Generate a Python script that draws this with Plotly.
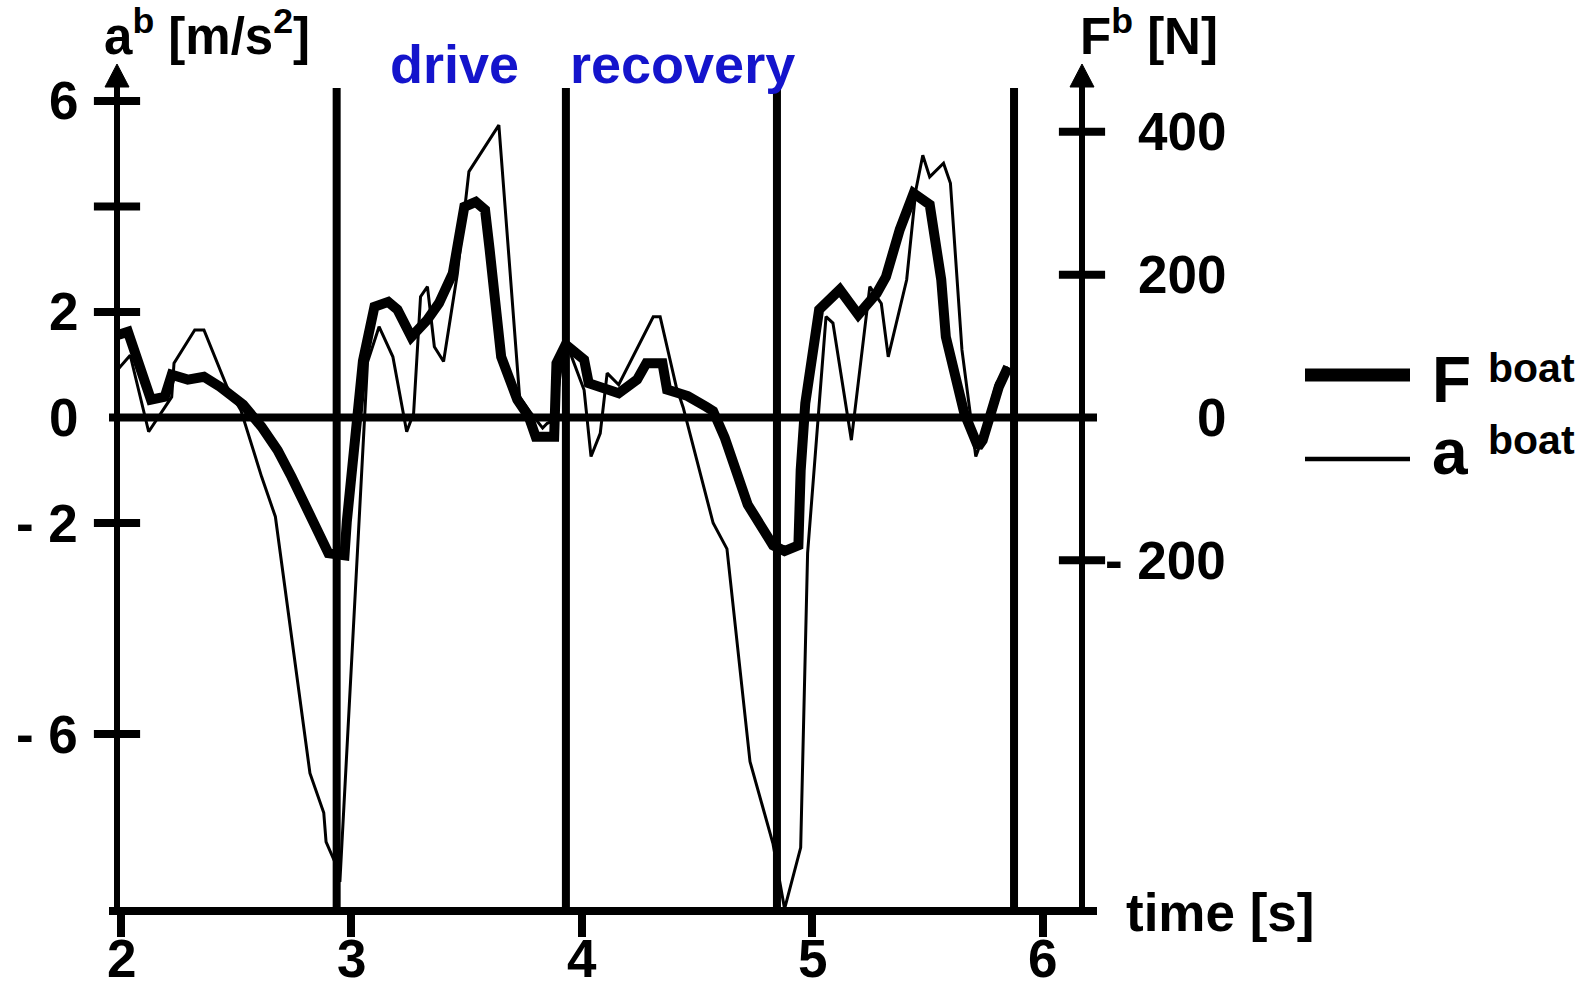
import plotly.graph_objects as go

# ---------------- data ----------------
t_force = [1.99, 2.03, 2.13, 2.19, 2.22, 2.29, 2.36, 2.43, 2.53, 2.61, 2.68, 2.74, 2.90, 2.97, 2.98,
           3.05, 3.10, 3.16, 3.20, 3.26, 3.33, 3.38, 3.44, 3.49, 3.54, 3.58, 3.60, 3.65, 3.72, 3.77,
           3.80, 3.88, 3.89, 3.93, 4.01, 4.03, 4.16, 4.24, 4.28, 4.35, 4.37, 4.46, 4.54, 4.57, 4.62,
           4.72, 4.83, 4.88, 4.94, 4.95, 4.97, 5.03, 5.12, 5.20, 5.28, 5.32, 5.38, 5.44, 5.51, 5.56,
           5.58, 5.66, 5.72, 5.74, 5.81, 5.85]
force_N = [116, 120, 25, 29, 60, 53, 57, 43, 18, -13, -46, -83, -190, -193, -146,
           79, 155, 162, 151, 113, 137, 160, 202, 295, 302, 291, 235, 85, 25, 1,
           -27, -27, 76, 102, 81, 48, 34, 53, 76, 76, 39, 30, 15, 9, -28,
           -122, -179, -187, -179, -74, 20, 151, 179, 144, 174, 197, 263, 314, 298, 193,
           113, 6, -41, -32, 43, 71]

t_acc = [1.99, 2.04, 2.12, 2.22, 2.23, 2.32, 2.36, 2.46, 2.52, 2.61, 2.67, 2.82, 2.88, 2.89, 2.93,
         2.95, 3.07, 3.12, 3.18, 3.24, 3.27, 3.30, 3.33, 3.36, 3.40, 3.46, 3.51, 3.64, 3.73, 3.78,
         3.83, 3.85, 3.88, 3.92, 3.95, 4.01, 4.04, 4.08, 4.11, 4.16, 4.31, 4.34, 4.41, 4.44, 4.57,
         4.63, 4.73, 4.83, 4.88, 4.95, 4.98, 5.06, 5.09, 5.17, 5.25, 5.30, 5.33, 5.41, 5.45, 5.48,
         5.51, 5.57, 5.60, 5.65, 5.71, 5.72, 5.80, 5.85]
acc_ms2 = [0.93, 1.18, -0.27, 0.39, 1.03, 1.66, 1.66, 0.58, 0.14, -1.12, -1.88, -6.74, -7.49, -8.04, -8.44,
           -8.80, 1.05, 1.72, 1.15, -0.27, 0.08, 2.29, 2.48, 1.34, 1.06, 2.73, 4.66, 5.54, 0.39, 0.08,
           -0.20, -0.11, -0.05, 1.28, 1.22, 0.52, -0.74, -0.30, 0.84, 0.62, 1.91, 1.91, 0.58, 0.19, -2.00,
           -2.49, -6.52, -8.08, -9.31, -8.15, -2.57, 1.91, 1.79, -0.43, 2.48, 2.16, 1.15, 2.61, 4.31, 4.97,
           4.56, 4.82, 4.44, 1.28, -0.74, -0.62, 0.65, 0.96]

phase_lines_s = [2.936, 3.931, 4.847, 5.876]
phase_names = ["drive", "recovery"]

x_ticks = [2, 3, 4, 5, 6]
x_tick_text = ["2", "3", "4", "5", "6"]
a_tick_marks = [6, 4, 2, -2, -6]
a_tick_vals = [6, 2, 0, -2, -6]
a_tick_text = ["6", "2", "0", "- 2", "- 6"]
F_tick_marks = [400, 200, -200]
F_tick_vals = [400, 200, 0, -200]
F_tick_text = ["400", "200", "0", "- 200"]

# ---------------- layout geometry ----------------
W, H = 1582, 990
L, R, T, B = 117, 500, 88, 79
PW, PH = W - L - R, H - T - B
x_range = [1.9826, 6.171]
a_range = [-9.352, 6.244]
N_PER_MS2 = 73.9
F_range = [a_range[0] * N_PER_MS2, a_range[1] * N_PER_MS2]

def fx(p):  # pixel -> paper x
    return (p - L) / PW

def fy(p):  # pixel -> paper y
    return (H - B - p) / PH

FONT = "Liberation Sans, Arial, sans-serif"
BLUE = "#1414CC"
FS = 53

fig = go.Figure()

fig.add_trace(go.Scatter(x=t_acc, y=acc_ms2, mode="lines", yaxis="y",
                         line=dict(color="black", width=3), showlegend=False, hoverinfo="skip"))
fig.add_trace(go.Scatter(x=t_force, y=force_N, mode="lines", yaxis="y2",
                         line=dict(color="black", width=10), showlegend=False, hoverinfo="skip"))

# tick marks crossing the vertical axes
fig.add_trace(go.Scatter(x=[x_range[0]] * len(a_tick_marks), y=a_tick_marks, mode="markers", yaxis="y",
                         marker=dict(symbol="line-ew", size=33, line=dict(width=8, color="black")),
                         cliponaxis=False, showlegend=False, hoverinfo="skip"))
fig.add_trace(go.Scatter(x=[x_range[1]] * len(F_tick_marks), y=F_tick_marks, mode="markers", yaxis="y2",
                         marker=dict(symbol="line-ew", size=33, line=dict(width=8, color="black")),
                         cliponaxis=False, showlegend=False, hoverinfo="skip"))

shapes = []
# phase boundary lines
for tl in phase_lines_s:
    shapes.append(dict(type="line", xref="x", yref="paper", x0=tl, x1=tl, y0=0, y1=1,
                       line=dict(color="black", width=8)))
# zero line
shapes.append(dict(type="line", xref="paper", yref="y", x0=fx(109), x1=fx(1097), y0=0, y1=0,
                   line=dict(color="black", width=8)))
# bottom axis
shapes.append(dict(type="line", xref="paper", yref="paper", x0=fx(109), x1=fx(1097), y0=0, y1=0,
                   line=dict(color="black", width=8)))
# vertical axes with arrows
for xa in (0, 1):
    shapes.append(dict(type="line", xref="paper", yref="paper", x0=xa, x1=xa, y0=0, y1=fy(80),
                       line=dict(color="black", width=6)))
    xl, xr_ = xa - 12 / PW, xa + 12 / PW
    shapes.append(dict(type="path", xref="paper", yref="paper",
                       path=f"M {xl} {fy(87)} L {xr_} {fy(87)} L {xa} {fy(64)} Z",
                       fillcolor="black", line=dict(color="black", width=1)))
# legend lines
shapes.append(dict(type="line", xref="paper", yref="paper", x0=fx(1305), x1=fx(1410), y0=fy(375), y1=fy(375),
                   line=dict(color="black", width=13)))
shapes.append(dict(type="line", xref="paper", yref="paper", x0=fx(1305), x1=fx(1410), y0=fy(459), y1=fy(459),
                   line=dict(color="black", width=4.5)))

ann = []
big = dict(family=FONT, size=FS, color="black", weight="bold")
for v, s in zip(x_ticks, x_tick_text):
    ann.append(dict(x=v, y=fy(989), xref="x", yref="paper", text=s, showarrow=False, borderpad=0,
                    xanchor="center", yanchor="bottom", font=big))
for v, s in zip(a_tick_vals, a_tick_text):
    ann.append(dict(x=fx(80), y=v, xref="paper", yref="y", text=s, showarrow=False,
                    xanchor="right", yanchor="middle", font=big))
for v, s in zip(F_tick_vals, F_tick_text):
    ann.append(dict(x=fx(1228), y=v, xref="paper", yref="y2", text=s, showarrow=False,
                    xanchor="right", yanchor="middle", font=big))
title_font = dict(family=FONT, size=51, color="black", weight="bold")
ann.append(dict(x=fx(102), y=fy(33), xref="paper", yref="paper", text="a<sup>b</sup> [m/s<sup>2</sup>]",
                showarrow=False, xanchor="left", yanchor="middle", font=title_font))
ann.append(dict(x=fx(1078), y=fy(33), xref="paper", yref="paper", text="F<sup>b</sup> [N]",
                showarrow=False, xanchor="left", yanchor="middle", font=title_font))
blue_font = dict(family=FONT, size=54, color=BLUE, weight="bold")
ann.append(dict(x=fx(388), y=fy(64), xref="paper", yref="paper",
                text=phase_names[0], showarrow=False, xanchor="left", yanchor="middle", font=blue_font))
ann.append(dict(x=fx(568), y=fy(64), xref="paper", yref="paper",
                text=phase_names[1], showarrow=False, xanchor="left", yanchor="middle", font=blue_font))
ann.append(dict(x=fx(1124), y=fy(912), xref="paper", yref="paper", text="time [s]",
                showarrow=False, xanchor="left", yanchor="middle", font=big))
# legend text
ann.append(dict(x=fx(1430), y=fy(380), xref="paper", yref="paper", text="F", showarrow=False,
                xanchor="left", yanchor="middle", font=dict(family=FONT, size=64, color="black", weight="bold")))
ann.append(dict(x=fx(1486), y=fy(368), xref="paper", yref="paper", text="boat", showarrow=False,
                xanchor="left", yanchor="middle", font=dict(family=FONT, size=41, color="black", weight="bold")))
ann.append(dict(x=fx(1430), y=fy(452), xref="paper", yref="paper", text="a", showarrow=False,
                xanchor="left", yanchor="middle", font=dict(family=FONT, size=64, color="black", weight="bold")))
ann.append(dict(x=fx(1486), y=fy(440), xref="paper", yref="paper", text="boat", showarrow=False,
                xanchor="left", yanchor="middle", font=dict(family=FONT, size=41, color="black", weight="bold")))

fig.update_layout(
    width=W, height=H, margin=dict(l=L, r=R, t=T, b=B, autoexpand=False),
    paper_bgcolor="white", plot_bgcolor="white",
    showlegend=False, shapes=shapes, annotations=ann,
    xaxis=dict(range=x_range, tickvals=x_ticks, showticklabels=False,
               ticks="outside", ticklen=25, tickwidth=8, tickcolor="black", automargin=False,
               showline=False, showgrid=False, zeroline=False),
    yaxis=dict(range=a_range, showticklabels=False, showgrid=False, zeroline=False, showline=False,
               ticks="", automargin=False),
    yaxis2=dict(range=F_range, overlaying="y", side="right", showticklabels=False, showgrid=False,
                zeroline=False, showline=False, ticks="", automargin=False),
)

fig.write_html("out.html")
